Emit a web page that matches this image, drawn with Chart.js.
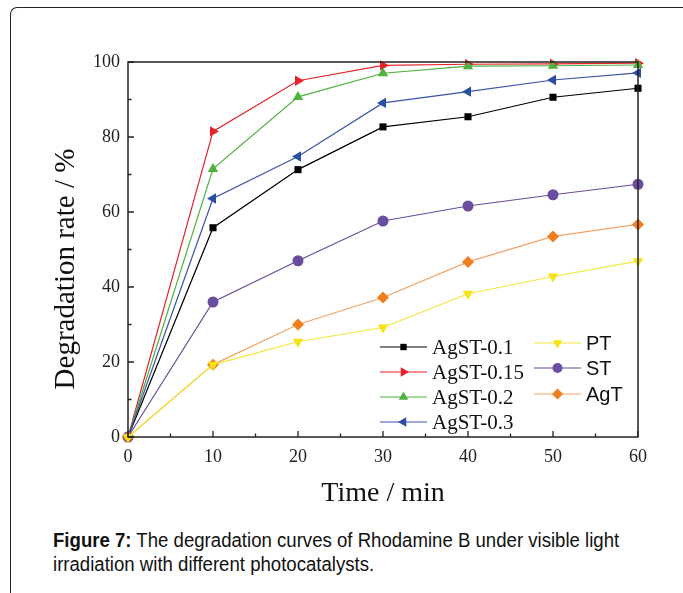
<!DOCTYPE html>
<html>
<head>
<meta charset="utf-8">
<script src="https://cdn.jsdelivr.net/npm/chart.js@4/dist/chart.umd.min.js"></script>
<style>
  body { margin: 0; background: #fff; width: 683px; height: 593px; overflow: hidden; position: relative; }
  #frame { position: absolute; left: 10px; top: 7px; width: 700px; height: 620px;
           border-left: 1.5px solid #222; border-top: 1.5px solid #222; border-top-left-radius: 7px; }
  #wrap { position: absolute; left: 0; top: 0; width: 683px; height: 514px; }
  #caption { position: absolute; left: 53px; top: 528px; width: 640px;
             transform: scaleX(0.93); transform-origin: left top;
             font-family: "Liberation Sans", Arial, sans-serif; font-size: 20px; line-height: 24px; color: #111; }
</style>
</head>
<body>
<div id="frame"></div>
<div id="wrap"><canvas id="chart"></canvas></div>
<div id="caption"><b>Figure 7:</b> The degradation curves of Rhodamine B under visible light<br>irradiation with different photocatalysts.</div>
<script>
// time points (min)
const times = [0, 10, 20, 30, 40, 50, 60];

// degradation rate (%)
const agst01  = [0, 55.8, 71.3, 82.7, 85.4, 90.6, 93.0];
const agst015 = [0, 81.5, 95.0, 99.1, 99.4, 99.5, 99.7];
const agst02  = [0, 71.5, 90.7, 97.0, 98.9, 99.0, 99.2];
const agst03  = [0, 63.6, 74.8, 89.1, 92.1, 95.2, 97.1];
const pt      = [0, 19.3, 25.4, 29.2, 38.2, 42.8, 46.9];
const st      = [0, 36.0, 47.0, 57.6, 61.6, 64.6, 67.4];
const agt     = [0, 19.3, 30.0, 37.2, 46.7, 53.5, 56.7];

const yTicks = [0, 20, 40, 60, 80, 100];
const xTicks = [0, 10, 20, 30, 40, 50, 60];

const serif = "'Liberation Serif', 'Times New Roman', serif";
const sans = "'Liberation Sans', Arial, sans-serif";

function pts(arr) {
  return arr.map((v, i) => ({ x: times[i], y: v }));
}

function series(label, data, color, lineColor, style, rot, r) {
  return {
    label,
    data: pts(data),
    borderColor: lineColor,
    backgroundColor: color,
    pointBackgroundColor: color,
    pointBorderColor: color,
    pointBorderWidth: 0,
    pointStyle: style,
    pointRotation: rot,
    pointRadius: r,
    borderWidth: 1.2,
    tension: 0,
    clip: false
  };
}

const datasets = [
  series("PT", pt, "#f5e40f", "#f3e63a", "triangle", 180, 6),
  series("AgT", agt, "#f07d1e", "#f4a467", "rectRot", 0, 6),
  series("ST", st, "#6a4d9e", "#6a4d9e", "circle", 0, 5.5),
  series("AgST-0.3", agst03, "#2b4ea3", "#3a55a8", "triangle", -90, 6),
  series("AgST-0.1", agst01, "#000000", "#000000", "rect", 0, 5),
  series("AgST-0.2", agst02, "#4fb23f", "#4fb23f", "triangle", 0, 6),
  series("AgST-0.15", agst015, "#e5232b", "#e5232b", "triangle", 90, 6)
];

const legendRows = [
  { label: "AgST-0.1", x: 380, y: 347, font: "21px " + serif },
  { label: "AgST-0.15", x: 380, y: 372, font: "21px " + serif },
  { label: "AgST-0.2", x: 380, y: 397, font: "21px " + serif },
  { label: "AgST-0.3", x: 380, y: 422, font: "21px " + serif },
  { label: "PT", x: 534, y: 343, font: "20px " + sans },
  { label: "ST", x: 534, y: 368, font: "20px " + sans },
  { label: "AgT", x: 534, y: 394, font: "20px " + sans }
];

const yTitle = "Degradation rate / %";

const framePlugin = {
  id: "frame",
  afterDatasetsDraw(chart) {
    const { ctx, chartArea: a, scales } = chart;
    ctx.save();
    ctx.strokeStyle = "#222";
    ctx.lineWidth = 1.5;
    ctx.strokeRect(a.left, a.top, a.right - a.left, a.bottom - a.top);
    // inward ticks
    ctx.lineWidth = 1.3;
    ctx.beginPath();
    for (let v = 0; v <= 60; v += 5) {
      const x = scales.x.getPixelForValue(v);
      const len = v % 10 === 0 ? 6 : 3.5;
      ctx.moveTo(x, a.bottom);
      ctx.lineTo(x, a.bottom - len);
    }
    for (let v = 0; v <= 100; v += 10) {
      const y = scales.y.getPixelForValue(v);
      const len = v % 20 === 0 ? 6 : 3.5;
      ctx.moveTo(a.left, y);
      ctx.lineTo(a.left + len, y);
    }
    ctx.stroke();

    // y title (sits a bit below the axis middle in the original)
    ctx.save();
    ctx.translate(66, 269);
    ctx.rotate(-Math.PI / 2);
    ctx.font = "29px " + serif;
    ctx.fillStyle = "#111";
    ctx.textAlign = "center";
    ctx.textBaseline = "middle";
    ctx.fillText(yTitle, 0, 0);
    ctx.restore();

    // legend
    ctx.textBaseline = "middle";
    legendRows.forEach(row => {
      const ds = chart.data.datasets.find(d => d.label === row.label);
      const w = 47;
      ctx.strokeStyle = ds.borderColor;
      ctx.lineWidth = 1.2;
      ctx.beginPath();
      ctx.moveTo(row.x, row.y);
      ctx.lineTo(row.x + w, row.y);
      ctx.stroke();
      ctx.fillStyle = ds.pointBackgroundColor;
      Chart.helpers.drawPoint(ctx, {
        pointStyle: ds.pointStyle,
        rotation: ds.pointRotation,
        radius: ds.pointRadius - 0.5,
        borderWidth: 0
      }, row.x + w / 2, row.y);
      ctx.fillStyle = "#111";
      ctx.font = row.font;
      ctx.textAlign = "left";
      ctx.fillText(row.label, row.x + w + 5, row.y + 1);
    });
    ctx.restore();
  }
};

new Chart(document.getElementById("chart"), {
  type: "line",
  data: { datasets },
  options: {
    responsive: true,
    maintainAspectRatio: false,
    animation: false,
    layout: { padding: { left: 50, top: 62, right: 45, bottom: 0 } },
    plugins: {
      legend: { display: false },
      tooltip: { enabled: false }
    },
    scales: {
      x: {
        type: "linear",
        min: 0,
        max: 60,
        afterBuildTicks: s => { s.ticks = xTicks.map(v => ({ value: v })); },
        afterFit: s => { s.height = 77; },
        grid: { display: false, drawTicks: false },
        border: { display: false },
        ticks: { color: "#222", padding: 9, font: { family: serif, size: 18 } },
        title: { display: true, text: "Time / min", color: "#111", font: { family: serif, size: 28 } }
      },
      y: {
        min: 0,
        max: 100,
        afterBuildTicks: s => { s.ticks = yTicks.map(v => ({ value: v })); },
        afterFit: s => { s.width = 78; },
        grid: { display: false, drawTicks: false },
        border: { display: false },
        ticks: { color: "#222", padding: 8, font: { family: serif, size: 18 } },
        title: { display: false }
      }
    }
  },
  plugins: [framePlugin]
});
</script>
</body>
</html>
